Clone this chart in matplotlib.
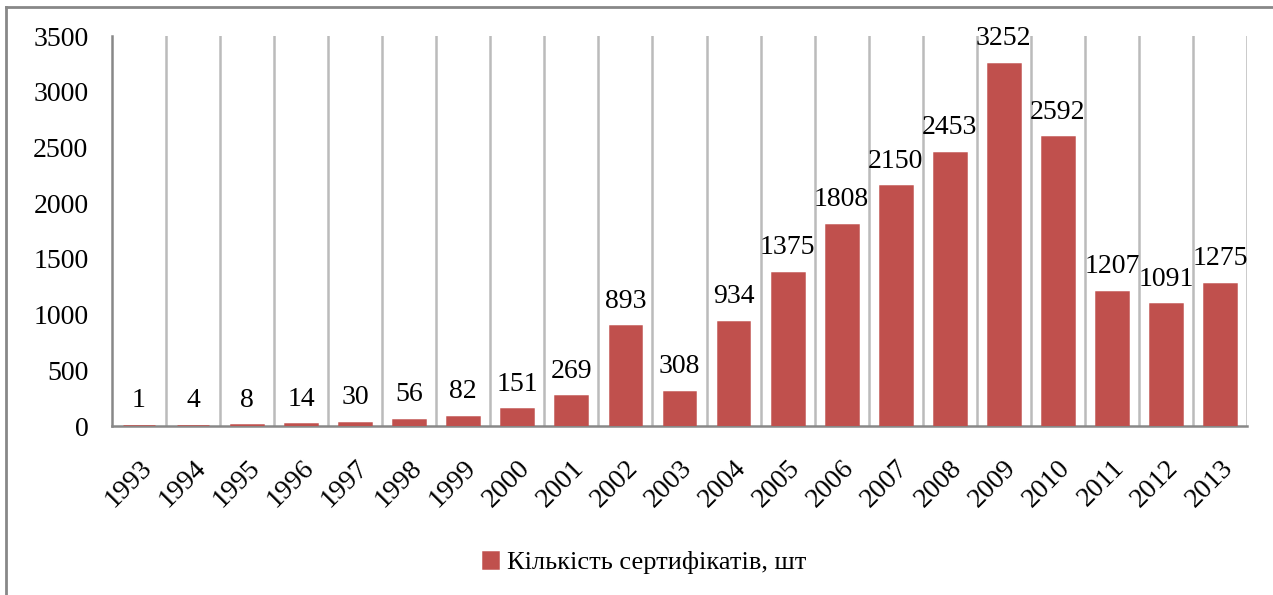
import matplotlib
matplotlib.use("Agg")
import matplotlib.pyplot as plt
from matplotlib.lines import Line2D

years = ["1993", "1994", "1995", "1996", "1997", "1998", "1999", "2000", "2001", "2002",
         "2003", "2004", "2005", "2006", "2007", "2008", "2009", "2010", "2011", "2012", "2013"]
counts = [1, 4, 8, 14, 30, 56, 82, 151, 269, 893, 308, 934, 1375, 1808, 2150, 2453,
          3252, 2592, 1207, 1091, 1275]
series_name = "Кількість сертифікатів, шт"
yticks = [0, 500, 1000, 1500, 2000, 2500, 3000, 3500]

plt.rcParams['font.family'] = ['Liberation Serif', 'DejaVu Serif']
bar_color = "#C0504D"
FS = 20

fig = plt.figure(figsize=(12.73, 5.95), dpi=100)
ax = fig.add_axes([112/1273, 1-426/595, (1247-112)/1273, (426-36)/595])

x = list(range(len(years)))
bars = ax.bar(x, counts, width=0.59, color=bar_color, edgecolor=bar_color, linewidth=1.8,
              label=series_name, zorder=3)
for xi, v in zip(x, counts):
    ax.annotate(str(v), (xi, v), xytext=(0, 9), textcoords="offset points",
                ha="center", va="bottom", fontsize=FS, color="black", zorder=4,
                annotation_clip=False)

ax.set_xlim(-0.5, len(years) - 0.5)
ax.set_ylim(0, 3500)
ax.set_yticks(yticks)
ax.set_yticklabels([str(t) for t in yticks], fontsize=FS)
ax.set_xticks(x)
ax.set_xticklabels(years, rotation=45, ha="right", rotation_mode="anchor", fontsize=FS)
ax.tick_params(axis="both", length=0)
ax.tick_params(axis="x", pad=21)
ax.tick_params(axis="y", pad=17)

for b in range(1, len(years) + 1):
    ax.axvline(b - 0.5, color="#BBBBBB", linewidth=1.8, zorder=1)

for s in ["top", "right"]:
    ax.spines[s].set_visible(False)
ax.spines["left"].set_color("#888888")
ax.spines["bottom"].set_color("#888888")
ax.spines["left"].set_linewidth(1.8)
ax.spines["bottom"].set_linewidth(1.8)

leg = fig.legend(handles=[bars], labels=[series_name], loc="center",
                 bbox_to_anchor=(645/1273, 1-563/595), frameon=False, fontsize=19,
                 handlelength=0.55, handleheight=0.55, handletextpad=0.35)

# outer chart border (top and left visible)
fig.add_artist(Line2D([6/1273, 1.0], [1-7/595, 1-7/595], transform=fig.transFigure,
                      color="#888888", linewidth=2))
fig.add_artist(Line2D([6/1273, 6/1273], [0.0, 1-7/595], transform=fig.transFigure,
                      color="#888888", linewidth=2))

fig.savefig("out.png", dpi=100)
